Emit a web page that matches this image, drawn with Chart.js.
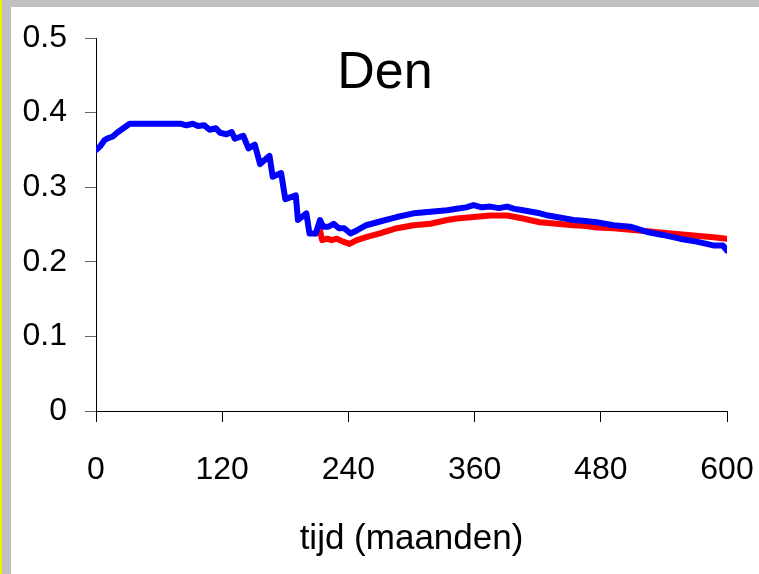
<!DOCTYPE html>
<html>
<head>
<meta charset="utf-8">
<script src="https://cdn.jsdelivr.net/npm/chart.js@4/dist/chart.umd.min.js"></script>
<style>
  html, body { margin: 0; padding: 0; }
  body { width: 759px; height: 574px; background: #c0c0c0; position: relative; overflow: hidden; }
  .edge { position: absolute; left: 0; top: 0; width: 2px; height: 574px; background: #f0f000; }
  .sheet { position: absolute; left: 11px; top: 7px; width: 748px; height: 567px; background: #fff; }
</style>
</head>
<body>
<div class="edge"></div>
<div class="sheet"><canvas id="chart" width="748" height="567"></canvas></div>
<script>
// Tijdreeks "Den" - twee scenario's
const chartTitle = 'Den';
const xTitle = 'tijd (maanden)';
const xTicks = [0, 120, 240, 360, 480, 600];
const yTicks = [0, 0.1, 0.2, 0.3, 0.4, 0.5];

// blauw
const blueMonths = [0, 4, 8, 12, 16, 20, 24, 28, 32, 40, 60, 81, 86, 92, 97, 103, 108, 114, 118, 124,
  129, 132, 140, 145, 151, 156, 165, 168, 176, 180, 190, 192, 200, 203, 209, 213, 216, 221, 226, 231,
  236, 242, 248, 257, 270, 286, 302, 318, 334, 343, 352, 359, 367, 375, 383, 391, 398, 406, 414, 422,
  430, 438, 446, 454, 463, 476, 492, 508, 524, 539, 555, 571, 587, 596, 600];
const blueValues = [0.350, 0.355, 0.363, 0.366, 0.368, 0.373, 0.377, 0.381, 0.385, 0.385, 0.385, 0.385, 0.383, 0.385, 0.382, 0.383, 0.377, 0.379, 0.373, 0.371,
  0.374, 0.365, 0.369, 0.352, 0.357, 0.331, 0.342, 0.314, 0.319, 0.284, 0.289, 0.256, 0.265, 0.238, 0.238, 0.256, 0.247, 0.247, 0.251, 0.245,
  0.245, 0.238, 0.242, 0.249, 0.254, 0.260, 0.265, 0.267, 0.269, 0.271, 0.273, 0.276, 0.273, 0.274, 0.272, 0.274, 0.271, 0.269, 0.267, 0.265,
  0.262, 0.260, 0.258, 0.256, 0.255, 0.253, 0.249, 0.247, 0.240, 0.236, 0.231, 0.227, 0.222, 0.222, 0.215];

// rood
const redMonths = [209, 213, 215, 220, 224, 229, 235, 241, 248, 257, 270, 286, 302, 318, 334, 343, 359,
  375, 391, 406, 422, 438, 454, 466, 476, 492, 508, 524, 539, 555, 571, 587, 600];
const redValues = [0.238, 0.242, 0.229, 0.231, 0.229, 0.231, 0.227, 0.224, 0.229, 0.233, 0.238, 0.245, 0.249, 0.251, 0.256, 0.258, 0.260,
  0.262, 0.262, 0.258, 0.253, 0.251, 0.249, 0.248, 0.246, 0.245, 0.243, 0.241, 0.239, 0.237, 0.235, 0.233, 0.231];

const FONT = 'Arial, "Liberation Sans", sans-serif';

const toPoints = (xs, ys) => xs.map((x, i) => ({ x: x, y: ys[i] }));

// automatische labelmarges uitzetten, layout.padding bepaalt het plotvlak
const noAutoPadding = (s) => {
  s.paddingTop = 0;
  s.paddingBottom = 0;
  s.paddingLeft = 0;
  s.paddingRight = 0;
};

// titel binnen het plotvlak
const titlePlugin = {
  id: 'innerTitle',
  afterDraw(chart) {
    const ctx = chart.ctx;
    ctx.save();
    ctx.font = '52px ' + FONT;
    ctx.fillStyle = '#000';
    ctx.textAlign = 'center';
    ctx.textBaseline = 'alphabetic';
    ctx.fillText(chartTitle, 374, 81);
    ctx.restore();
  }
};

new Chart(document.getElementById('chart'), {
  type: 'line',
  data: {
    datasets: [
      {
        label: 'blauw',
        data: toPoints(blueMonths, blueValues),
        borderColor: '#0000ff',
        borderWidth: 6,
        pointRadius: 0,
        tension: 0,
        borderJoinStyle: 'round',
        borderCapStyle: 'round'
      },
      {
        label: 'rood',
        data: toPoints(redMonths, redValues),
        borderColor: '#ff0000',
        borderWidth: 6,
        pointRadius: 0,
        tension: 0,
        borderJoinStyle: 'round',
        borderCapStyle: 'round'
      }
    ]
  },
  options: {
    responsive: false,
    animation: false,
    layout: { padding: { top: 31, right: 32, bottom: 0, left: 0 } },
    plugins: { legend: { display: false }, tooltip: { enabled: false } },
    scales: {
      x: {
        type: 'linear',
        min: 0,
        max: 600,
        afterBuildTicks: (s) => { s.ticks = xTicks.map(v => ({ value: v })); },
        afterFit: (s) => { s.height = 163; noAutoPadding(s); },
        border: { color: '#000', width: 1 },
        grid: { drawOnChartArea: false, tickLength: 11, tickColor: '#000' },
        ticks: { color: '#000', padding: 29, maxRotation: 0, font: { family: FONT, size: 32 } },
        title: {
          display: true,
          text: xTitle,
          color: '#000',
          font: { family: FONT, size: 35 },
          padding: { top: 0, bottom: 14 }
        }
      },
      y: {
        min: 0,
        max: 0.5,
        afterBuildTicks: (s) => { s.ticks = yTicks.map(v => ({ value: v })); },
        afterFit: (s) => { s.width = 85; noAutoPadding(s); },
        border: { color: '#000', width: 1 },
        grid: { drawOnChartArea: false, tickLength: 11, tickColor: '#666' },
        ticks: {
          color: '#000',
          padding: 18,
          font: { family: FONT, size: 32 },
          callback: (v) => String(Math.round(v * 10) / 10)
        }
      }
    }
  },
  plugins: [titlePlugin]
});
</script>
</body>
</html>
